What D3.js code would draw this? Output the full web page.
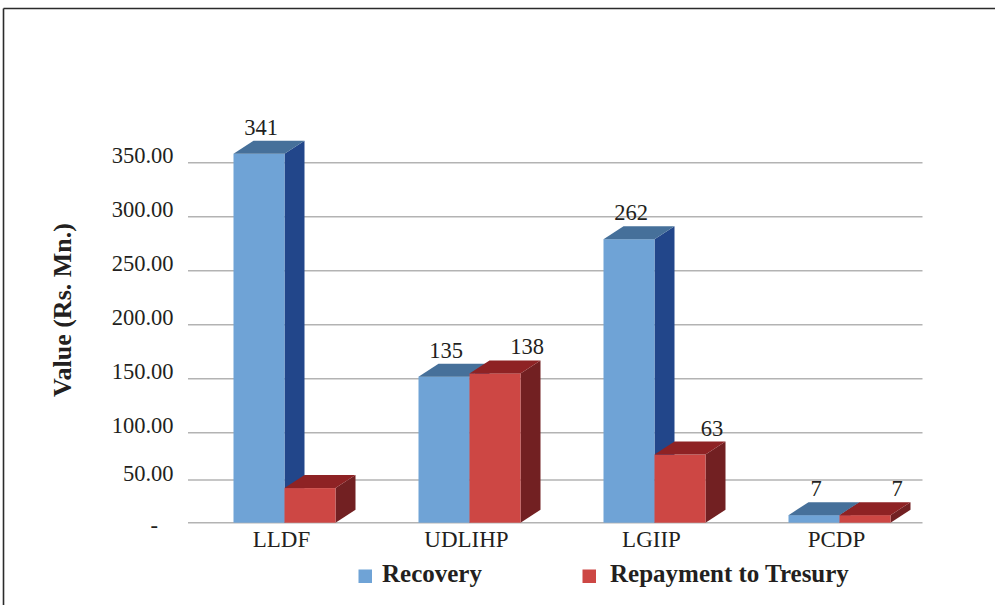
<!DOCTYPE html>
<html>
<head>
<meta charset="utf-8">
<script src="https://cdn.jsdelivr.net/npm/d3@7"></script>
<style>
  html, body { margin: 0; padding: 0; background: #fff; }
  svg { display: block; }
  text { font-family: "Liberation Serif", "Times New Roman", serif; fill: #231f20; }
</style>
</head>
<body>
<svg id="chart" width="995" height="605"></svg>
<script>
// ---- data ----
const categories = ["LLDF", "UDLIHP", "LGIIP", "PCDP"];
const seriesNames = ["Recovery", "Repayment to Tresury"];
const recovery = [341, 135, 262, 7];
const repayment = [32, 138, 63, 7];
const recoveryLabelShown = [true, true, true, true];
const repaymentLabelShown = [false, true, true, true];
const yTicks = [0, 50, 100, 150, 200, 250, 300, 350];
const yTickLabels = ["-", "50.00", "100.00", "150.00", "200.00", "250.00", "300.00", "350.00"];
const yTitle = "Value (Rs. Mn.)";

// ---- styles ----
const palette = {
  Recovery: { front: "#6fa3d6", side: "#22468a", top: "#46709a" },
  "Repayment to Tresury": { front: "#cd4744", side: "#722022", top: "#8e2224" }
};
const depth = { dx: 20, dy: -13 };

const svg = d3.select("#chart");

// frame (top and left edges)
svg.append("line").attr("x1", 3.5).attr("x2", 995).attr("y1", 8.5).attr("y2", 8.5)
  .attr("stroke", "#2b2b2b").attr("stroke-width", 1.6);
svg.append("line").attr("x1", 3.5).attr("x2", 3.5).attr("y1", 8.5).attr("y2", 605)
  .attr("stroke", "#2b2b2b").attr("stroke-width", 1.6);

// back-wall scale (gridlines, perspective-compressed near the floor)
const yGrid = d3.scaleLinear().domain([0, 50, 100, 350]).range([522.7, 480, 432.7, 162.7]);
// front-face scale for bars
const yBar = d3.scaleLinear().domain([0, 350]).range([522.7, 522.7 - 378.7]);

const x0 = d3.scaleBand().domain(categories).range([192, 932]).padding(0);
const groupW = 102;
const x1 = d3.scaleBand().domain(seriesNames).range([0, groupW]).padding(0);

// gridlines
svg.append("g").selectAll("line").data(yTicks).join("line")
  .attr("x1", 188).attr("x2", 922.5)
  .attr("y1", d => yGrid(d)).attr("y2", d => yGrid(d))
  .attr("stroke", "#b3b3b3").attr("stroke-width", 1.6);

// tick labels
svg.append("g").selectAll("text").data(yTicks).join("text")
  .attr("x", (d, i) => i === 0 ? 158 : 173.5)
  .attr("y", d => d === 0 ? yGrid(d) + 3 : yGrid(d) - 7)
  .attr("text-anchor", "end")
  .attr("dominant-baseline", "central")
  .attr("font-size", 22.5)
  .text((d, i) => yTickLabels[i]);

// y title
svg.append("text")
  .attr("transform", "translate(71,310) rotate(-90)")
  .attr("text-anchor", "middle")
  .attr("font-size", 26).attr("font-weight", "bold")
  .text(yTitle);

// bars
const rows = [];
categories.forEach((c, i) => {
  rows.push({ cat: c, series: seriesNames[0], value: recovery[i], show: recoveryLabelShown[i] });
  rows.push({ cat: c, series: seriesNames[1], value: repayment[i], show: repaymentLabelShown[i] });
});

const barsG = svg.append("g");
rows.forEach(r => {
  const left = x0(r.cat) + (x0.bandwidth() - groupW) / 2 + x1(r.series);
  const right = left + x1.bandwidth();
  const top = yBar(r.value);
  const bottom = yBar(0);
  const { dx, dy } = depth;
  const col = palette[r.series];
  const g = barsG.append("g");
  g.append("path")
    .attr("d", `M${right},${bottom}L${right + dx},${bottom + dy}L${right + dx},${top + dy}L${right},${top}Z`)
    .attr("fill", col.side);
  g.append("rect")
    .attr("x", left).attr("y", top)
    .attr("width", right - left).attr("height", bottom - top)
    .attr("fill", col.front);
  g.append("path")
    .attr("d", `M${left},${top}L${left + dx},${top + dy}L${right + dx},${top + dy}L${right},${top}Z`)
    .attr("fill", col.top);
  r.left = left; r.right = right; r.top = top;
});

// data labels
const labelOffset = { Recovery: 2, "Repayment to Tresury": 32 };
svg.append("g").selectAll("text").data(rows.filter(r => r.show)).join("text")
  .attr("x", r => (r.left + r.right) / 2 + labelOffset[r.series])
  .attr("y", r => r.top + depth.dy - 6)
  .attr("text-anchor", "middle")
  .attr("font-size", 22.5)
  .text(r => r.value);

// category labels
svg.append("g").selectAll("text").data(categories).join("text")
  .attr("x", d => x0(d) + x0.bandwidth() / 2 - 3)
  .attr("y", 547)
  .attr("text-anchor", "middle")
  .attr("font-size", 23)
  .text(d => d);

// legend
const legendItems = [
  { name: seriesNames[0], sx: 358.5, tx: 382 },
  { name: seriesNames[1], sx: 582.5, tx: 610 }
];
const lg = svg.append("g");
legendItems.forEach(it => {
  lg.append("rect").attr("x", it.sx).attr("y", 569.5).attr("width", 13.5).attr("height", 13.5)
    .attr("fill", palette[it.name].front);
  lg.append("text").attr("x", it.tx).attr("y", 581.7)
    .attr("font-size", 25).attr("font-weight", "bold")
    .text(it.name);
});
</script>
</body>
</html>
